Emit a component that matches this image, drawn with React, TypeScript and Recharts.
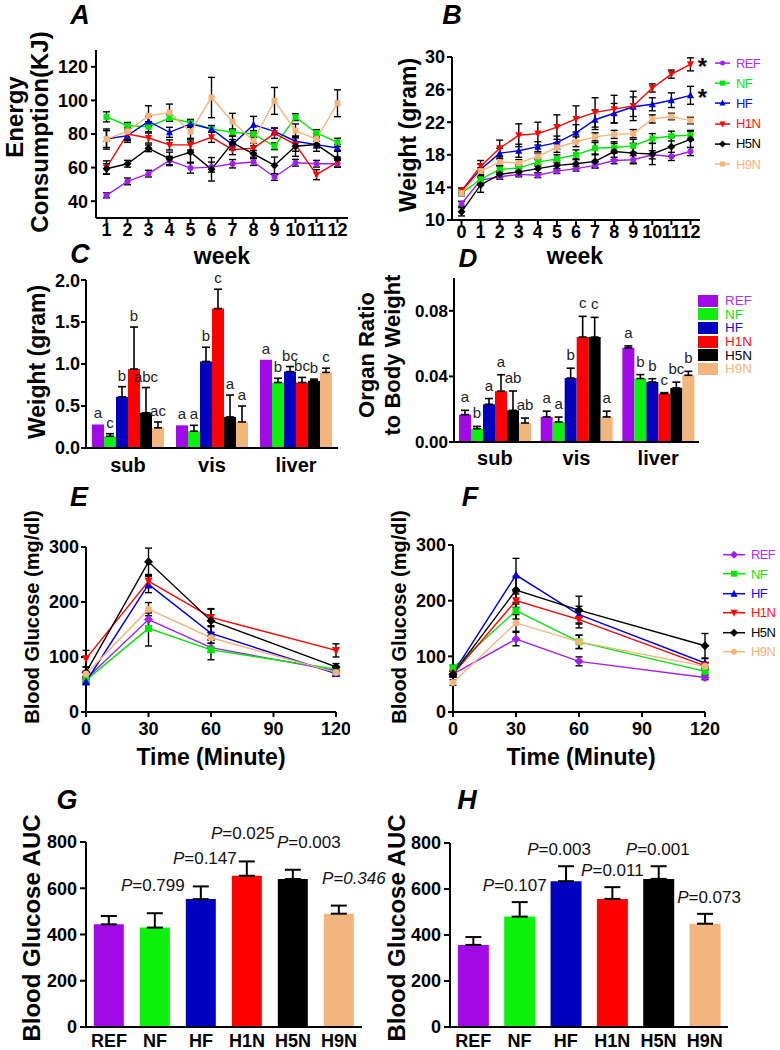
import React from 'react';
import { LineChart, Line, BarChart, Bar, Cell, XAxis, YAxis, ErrorBar, LabelList } from 'recharts';

const FONT = '"Liberation Sans", Arial, Helvetica, sans-serif';

// groups shared by every panel (upper-case keys: "ref" is reserved by React)
const GROUPS = ['REF', 'NF', 'HF', 'H1N', 'H5N', 'H9N'];
const KEYS = GROUPS;

const BAR_COLORS: Record<string, string> = {
  REF: '#a10ae6', NF: '#0cf00c', HF: '#0000c0', H1N: '#ff0000', H5N: '#000000', H9N: '#f2b57e',
};
const LINE_COLORS: Record<string, string> = {
  REF: '#a020f0', NF: '#00e800', HF: '#0000e0', H1N: '#ff0000', H5N: '#000000', H9N: '#f5b47c',
};
const TEXT_COLORS: Record<string, string> = {
  REF: '#b030f0', NF: '#10e010', HF: '#1010e0', H1N: '#ff1010', H5N: '#000000', H9N: '#f5b47c',
};

// A: energy consumption (KJ) by week
const weeksA = [1, 2, 3, 4, 5, 6, 7, 8, 9, 10, 11, 12];
const energyRef = [43.5, 51.8, 56.4, 64.2, 59.7, 60.3, 62.3, 63.3, 54.4, 62.9, 62.3, 62.3];
const energyNf = [90.2, 84.9, 84.3, 89.5, 86.7, 83, 81, 80, 72.7, 90, 80.6, 75];
const energyHf = [77, 79, 87.5, 81, 86, 83, 73.7, 85.5, 81.6, 75.7, 73.7, 71.7];
const energyH1n = [60, 80, 77.6, 73.5, 73.5, 78, 70.7, 71.5, 80.4, 73.7, 55.8, 63.3];
const energyH5n = [59.3, 62.3, 71.5, 65.2, 69.2, 59, 74.7, 68.2, 61.3, 72.7, 73.7, 65.2];
const energyH9n = [77, 81.6, 90.8, 92.8, 81.4, 101.7, 87.3, 76, 99.7, 82, 77, 98.3];
const energyRefErr = [1.5, 2, 2, 2.5, 3, 3, 2.5, 2, 2, 2, 2, 2];
const energyNfErr = [3, 2, 3, 2, 2, 2, 2, 2, 2, 2, 2, 2.5];
const energyHfErr = [6, 4, 3, 3, 2, 2, 3, 5, 2, 3, 2, 2];
const energyH1nErr = [4, 4, 3, 3, 3, 3, 3, 3, 3, 4, 3, 3];
const energyH5nErr = [3, 2, 2, 4, 6, 7, 4, 2, 5, 6, 4, 5];
const energyH9nErr = [5, 5, 6, 5, 4, 12, 5, 3, 8, 4, 3, 8];

// B: body weight (gram) by week
const weeksB = [0, 1, 2, 3, 4, 5, 6, 7, 8, 9, 10, 11, 12];
const weightRef = [12.0, 14.9, 15.3, 15.6, 15.5, 16.0, 16.3, 16.7, 17.3, 17.4, 18.0, 17.8, 18.4];
const weightNf = [13.3, 15.0, 16.2, 16.4, 17.1, 17.5, 18.0, 18.8, 18.9, 19.1, 20.0, 20.3, 20.4];
const weightHf = [13.6, 16.2, 18.2, 18.5, 19.0, 19.5, 20.7, 22.3, 23.1, 23.9, 24.2, 24.7, 25.3];
const weightH1n = [13.6, 16.6, 18.8, 20.4, 20.6, 21.4, 22.4, 23.2, 23.6, 24.0, 26.2, 27.9, 29.1];
const weightH5n = [11.0, 14.3, 15.6, 15.9, 16.3, 16.7, 16.9, 17.2, 18.4, 18.2, 18.1, 19.0, 19.9];
const weightH9n = [13.3, 16.0, 17.1, 17.0, 17.8, 18.9, 19.6, 20.2, 20.5, 20.6, 22.4, 22.7, 22.2];
const weightRefErr = [0.3, 0.4, 0.3, 0.3, 0.3, 0.3, 0.3, 0.3, 0.4, 0.5, 0.5, 0.5, 0.5];
const weightNfErr = [0.3, 0.5, 0.4, 0.4, 0.5, 0.5, 0.6, 0.7, 0.7, 0.8, 0.6, 0.6, 0.6];
const weightHfErr = [0.3, 0.7, 0.6, 0.8, 0.6, 0.8, 1.0, 1.2, 1.2, 1.2, 0.8, 0.9, 1.1];
const weightH1nErr = [0.3, 0.7, 1.0, 1.4, 1.4, 1.5, 1.6, 1.8, 1.7, 1.8, 0.5, 0.5, 0.8];
const weightH5nErr = [0.5, 0.9, 0.4, 0.4, 0.5, 0.6, 0.6, 0.8, 1.0, 1.2, 1.3, 1.2, 1.0];
const weightH9nErr = [0.3, 0.4, 0.4, 0.4, 0.4, 0.6, 0.6, 0.5, 0.5, 0.5, 0.5, 0.4, 0.4];
const weightStars = ['', '', '', '', '', '', '', '', '', '', '', '', '*'];

// C: tissue weight (gram)
const organs = ['sub', 'vis', 'liver'];
const fatRef = [0.28, 0.27, 1.05];
const fatNf = [0.14, 0.20, 0.78];
const fatHf = [0.61, 1.03, 0.91];
const fatH1n = [0.94, 1.66, 0.78];
const fatH5n = [0.42, 0.37, 0.80];
const fatH9n = [0.24, 0.31, 0.90];
const fatRefErr = [0.0, 0.0, 0.0];
const fatNfErr = [0.03, 0.07, 0.05];
const fatHfErr = [0.12, 0.17, 0.06];
const fatH1nErr = [0.5, 0.23, 0.06];
const fatH5nErr = [0.30, 0.26, 0.02];
const fatH9nErr = [0.07, 0.19, 0.05];
const fatRefSig = ['a', 'a', 'a'];
const fatNfSig = ['c', 'a', 'b'];
const fatHfSig = ['b', 'b', 'bc'];
const fatH1nSig = ['b', 'c', 'bc'];
const fatH5nSig = ['abc', 'a', 'b'];
const fatH9nSig = ['ac', 'a', 'c'];

// D: organ ratio to body weight
const ratioRef = [0.0167, 0.0153, 0.0574];
const ratioNf = [0.0081, 0.0122, 0.0387];
const ratioHf = [0.023, 0.039, 0.0366];
const ratioH1n = [0.031, 0.064, 0.0295];
const ratioH5n = [0.0193, 0.064, 0.033];
const ratioH9n = [0.0116, 0.0153, 0.0407];
const ratioRefErr = [0.0026, 0.0035, 0.0012];
const ratioNfErr = [0.0014, 0.003, 0.0024];
const ratioHfErr = [0.0035, 0.006, 0.002];
const ratioH1nErr = [0.010, 0.0126, 0.0006];
const ratioH5nErr = [0.0118, 0.012, 0.0035];
const ratioH9nErr = [0.003, 0.0035, 0.0024];
const ratioRefSig = ['a', 'a', 'a'];
const ratioNfSig = ['b', 'a', 'b'];
const ratioHfSig = ['a', 'b', 'b'];
const ratioH1nSig = ['a', 'c', 'c'];
const ratioH5nSig = ['ab', 'c', 'bc'];
const ratioH9nSig = ['ab', 'a', 'b'];

// E / F: blood glucose (mg/dl) over time
const minutes = [0, 30, 60, 120];
const gttERef = [60, 168, 117, 75];
const gttENf = [58, 152, 113, 78];
const gttEHf = [55, 232, 143, 70];
const gttEH1n = [97, 238, 172, 112];
const gttEH5n = [72, 273, 166, 82];
const gttEH9n = [69, 187, 135, 72];
const gttERefErr = [5, 12, 8, 5];
const gttENfErr = [5, 32, 18, 5];
const gttEHfErr = [5, 15, 12, 5];
const gttEH1nErr = [15, 12, 15, 12];
const gttEH5nErr = [10, 25, 22, 6];
const gttEH9nErr = [5, 12, 10, 5];

const gttFRef = [68, 131, 91, 62];
const gttFNf = [79, 182, 126, 73];
const gttFHf = [70, 246, 175, 88];
const gttFH1n = [68, 200, 166, 83];
const gttFH5n = [68, 219, 183, 119];
const gttFH9n = [53, 160, 126, 82];
const gttFRefErr = [5, 12, 8, 4];
const gttFNfErr = [5, 15, 12, 5];
const gttFHfErr = [5, 30, 15, 8];
const gttFH1nErr = [5, 12, 15, 6];
const gttFH5nErr = [5, 25, 25, 22];
const gttFH9nErr = [5, 15, 12, 6];

// G / H: glucose AUC
const aucG = [444, 430, 553, 654, 640, 490];
const aucGErr = [36, 62, 55, 62, 40, 35];
const aucGP = ['', '0.799', '0.147', '0.025', '0.003', '0.346'];
const aucH = [357, 480, 634, 557, 644, 449];
const aucHErr = [34, 63, 65, 51, 55, 43];
const aucHP = ['', '0.107', '0.003', '0.011', '0.001', '0.073'];

// label layout tweaks (not data)
const pDxG = [0, -2, 4, -4, 16, 15];
const pDxH = [0, -5, -7, 0, -1, 4];
const pItalicG = [false, false, false, false, false, true];
const pItalicH = [false, false, false, false, false, false];

const AXIS = { stroke: '#000', strokeWidth: 2 };
const tick = (size: number) => ({ fill: '#000', fontSize: size, fontWeight: 700, fontFamily: FONT });

const buildRows = (xKey: string, xs: any[], cols: Record<string, any[]>) =>
  xs.map((x, i) => {
    const r: any = { [xKey]: x };
    Object.keys(cols).forEach((k) => { r[k] = cols[k][i]; });
    return r;
  });

// GraphPad-style bars show only the upper half of the error bar
const upOnly = (errs: number[]) => errs.map((e) => (e > 0 ? [0, e] : null));

const lineCols = (vals: number[][], errs: number[][]) => {
  const cols: Record<string, any[]> = {};
  KEYS.forEach((k, i) => {
    cols[k] = vals[i];
    cols[k + 'Err'] = errs[i];
  });
  return cols;
};

const rowsA = buildRows('week', weeksA, lineCols(
  [energyRef, energyNf, energyHf, energyH1n, energyH5n, energyH9n],
  [energyRefErr, energyNfErr, energyHfErr, energyH1nErr, energyH5nErr, energyH9nErr],
));
const rowsB = buildRows('week', weeksB, {
  ...lineCols(
    [weightRef, weightNf, weightHf, weightH1n, weightH5n, weightH9n],
    [weightRefErr, weightNfErr, weightHfErr, weightH1nErr, weightH5nErr, weightH9nErr],
  ),
  star: weightStars,
});
const rowsE = buildRows('min', minutes, lineCols(
  [gttERef, gttENf, gttEHf, gttEH1n, gttEH5n, gttEH9n],
  [gttERefErr, gttENfErr, gttEHfErr, gttEH1nErr, gttEH5nErr, gttEH9nErr],
));
const rowsF = buildRows('min', minutes, lineCols(
  [gttFRef, gttFNf, gttFHf, gttFH1n, gttFH5n, gttFH9n],
  [gttFRefErr, gttFNfErr, gttFHfErr, gttFH1nErr, gttFH5nErr, gttFH9nErr],
));

const fatVals = [fatRef, fatNf, fatHf, fatH1n, fatH5n, fatH9n];
const fatErrs = [fatRefErr, fatNfErr, fatHfErr, fatH1nErr, fatH5nErr, fatH9nErr];
const fatSigs = [fatRefSig, fatNfSig, fatHfSig, fatH1nSig, fatH5nSig, fatH9nSig];
const ratioVals = [ratioRef, ratioNf, ratioHf, ratioH1n, ratioH5n, ratioH9n];
const ratioErrs = [ratioRefErr, ratioNfErr, ratioHfErr, ratioH1nErr, ratioH5nErr, ratioH9nErr];
const ratioSigs = [ratioRefSig, ratioNfSig, ratioHfSig, ratioH1nSig, ratioH5nSig, ratioH9nSig];

const barRows = (vals: number[][], errs: number[][], sigs: string[][]) => {
  const cols: Record<string, any[]> = {};
  KEYS.forEach((k, i) => {
    cols[k] = vals[i];
    cols[k + 'Err'] = upOnly(errs[i]);
    cols[k + 'Sig'] = sigs[i];
  });
  return buildRows('organ', organs, cols);
};
const rowsC = barRows(fatVals, fatErrs, fatSigs);
const rowsD = barRows(ratioVals, ratioErrs, ratioSigs);

const rowsG = buildRows('group', GROUPS, { auc: aucG, err: upOnly(aucGErr), pv: aucGP });
const rowsH = buildRows('group', GROUPS, { auc: aucH, err: upOnly(aucHErr), pv: aucHP });

// marker shapes
const SHAPES_AB = ['circle', 'square', 'tri', 'triDown', 'diamond', 'square'];
const SHAPES_EF = ['diamond', 'square', 'tri', 'triDown', 'diamond', 'circle'];

const markerPath = (shape: string, cx: number, cy: number, s: number) => {
  const h = s / 2;
  switch (shape) {
    case 'square':
      return `M${cx - h},${cy - h}h${s}v${s}h${-s}Z`;
    case 'tri':
      return `M${cx},${cy - h - 1}L${cx + h + 0.5},${cy + h}L${cx - h - 0.5},${cy + h}Z`;
    case 'triDown':
      return `M${cx},${cy + h + 1}L${cx + h + 0.5},${cy - h}L${cx - h - 0.5},${cy - h}Z`;
    case 'diamond':
      return `M${cx},${cy - h - 1}L${cx + h + 1},${cy}L${cx},${cy + h + 1}L${cx - h - 1},${cy}Z`;
    default:
      return `M${cx - h},${cy}a${h},${h} 0 1,0 ${s},0a${h},${h} 0 1,0 ${-s},0`;
  }
};

const makeDot = (shape: string, color: string, s: number) => (p: any) => {
  if (p.cx == null || p.cy == null) return <g key={`e${p.index}`} />;
  return <path key={`d${p.index}`} d={markerPath(shape, p.cx, p.cy, s)} fill={color} stroke="none" />;
};

// letters above bars (a, b, c ...), placed over the error bar cap
const sigLabel = (vals: number[], errs: number[], lift: number, size: number) => (p: any) => {
  const { x, y, width, height, index, value } = p;
  if (!value) return null;
  const capY = y - errs[index] * (height / vals[index]);
  return (
    <text x={x + width / 2} y={capY - lift} textAnchor="middle" fontSize={size} fill="#222" fontFamily={FONT}>
      {value}
    </text>
  );
};

const pLabel = (vals: number[], errs: number[], dx: number[], italic: boolean[], lift: number) => (p: any) => {
  const { x, y, width, height, index, value } = p;
  if (!value) return null;
  const capY = y - errs[index] * (height / vals[index]);
  return (
    <text x={x + width / 2 + dx[index]} y={capY - lift} textAnchor="middle" fontSize={17} fill="#111"
      fontFamily={FONT} fontStyle={italic[index] ? 'italic' : 'normal'}>
      <tspan fontStyle="italic">P</tspan>={value}
    </text>
  );
};

const starLabel = (p: any) => {
  const { x, y, value } = p;
  if (!value) return null;
  return (
    <text x={x + 12} y={y + 11} textAnchor="middle" fontSize={24} fontWeight={700} fill="#000" fontFamily={FONT}>
      {value}
    </text>
  );
};

const Txt = ({ x, y, size, children, bold = true, italic = false, rotate = false, color = '#000' }: any) => (
  <div
    style={{
      position: 'absolute', left: x, top: y,
      transform: `translate(-50%, -50%)${rotate ? ' rotate(-90deg)' : ''}`,
      fontSize: size, fontWeight: bold ? 700 : 400, fontStyle: italic ? 'italic' : 'normal',
      whiteSpace: 'nowrap', lineHeight: 1, color, fontFamily: FONT,
    }}
  >
    {children}
  </div>
);

const LineLegend = ({ left, top, step, lineW, fontSize, shapes, marker }: any) => (
  <div style={{ position: 'absolute', left, top, fontFamily: FONT }}>
    {KEYS.map((k, i) => (
      <div key={k} style={{ display: 'flex', alignItems: 'center', height: step }}>
        <svg width={lineW} height={step} style={{ display: 'block' }}>
          <line x1={0} x2={lineW} y1={step / 2} y2={step / 2} stroke={LINE_COLORS[k]} strokeWidth={1.5} />
          <path d={markerPath(shapes[i], lineW / 2, step / 2, marker)} fill={LINE_COLORS[k]} />
        </svg>
        <span style={{ color: TEXT_COLORS[k], fontSize, marginLeft: 6, letterSpacing: -0.6 }}>{GROUPS[i]}</span>
      </div>
    ))}
  </div>
);

const BoxLegend = ({ left, top }: any) => (
  <div style={{ position: 'absolute', left, top, fontFamily: FONT }}>
    {KEYS.map((k, i) => (
      <div key={k} style={{ display: 'flex', alignItems: 'center', height: 13.6 }}>
        <div style={{ width: 20, height: 12, background: BAR_COLORS[k] }} />
        <span style={{ color: TEXT_COLORS[k], fontSize: 13.5, marginLeft: 7, lineHeight: '13px' }}>{GROUPS[i]}</span>
      </div>
    ))}
  </div>
);

const seriesLines = (shapes: string[], size: number, starKeys: string[] = []) =>
  KEYS.map((k, i) => (
    <Line key={k} type="linear" dataKey={k} stroke={LINE_COLORS[k]} strokeWidth={1.4}
      dot={makeDot(shapes[i], LINE_COLORS[k], size)} activeDot={false} isAnimationActive={false}>
      <ErrorBar dataKey={`${k}Err`} direction="y" width={3.5} stroke="#000" strokeWidth={1.4} isAnimationActive={false} />
      {starKeys.includes(k) ? <LabelList dataKey="star" content={starLabel} /> : null}
    </Line>
  ));

const seriesBars = (vals: number[][], errs: number[][], lift: number, size: number) =>
  KEYS.map((k, i) => (
    <Bar key={k} dataKey={k} fill={BAR_COLORS[k]} isAnimationActive={false}>
      <ErrorBar dataKey={`${k}Err`} direction="y" width={4} stroke="#000" strokeWidth={1.6} isAnimationActive={false} />
      <LabelList dataKey={`${k}Sig`} content={sigLabel(vals[i], errs[i], lift, size)} />
    </Bar>
  ));

const abs = (left: number, top: number): React.CSSProperties => ({ position: 'absolute', left, top });

export default function App() {
  return (
    <div style={{ position: 'absolute', left: 0, top: 0, width: 780, height: 1050, background: '#fff', fontFamily: FONT, overflow: 'hidden' }}>
      {/* A */}
      <div style={abs(0, 0)}>
        <LineChart width={360} height={248} data={rowsA} margin={{ top: 50, right: 12, bottom: 0, left: 0 }}>
          <XAxis type="number" dataKey="week" domain={[0.5, 12.5]} ticks={weeksA} interval={0} axisLine={AXIS} tickLine={AXIS}
            tickSize={5} tickMargin={0} height={30} tick={tick(18)} />
          <YAxis type="number" domain={[30, 130]} ticks={[40, 60, 80, 100, 120]} width={96} axisLine={AXIS} tickLine={AXIS}
            tickSize={5} tickMargin={3} tick={tick(18)} />
          {seriesLines(SHAPES_AB, 6)}
        </LineChart>
      </div>
      <Txt x={80} y={15} size={27} italic>A</Txt>
      <Txt x={15} y={117} size={24} rotate>Energy</Txt>
      <Txt x={40} y={132} size={24} rotate>Consumption(KJ)</Txt>
      <Txt x={222} y={256} size={23}>week</Txt>

      {/* B */}
      <div style={abs(390, 0)}>
        <LineChart width={330} height={250} data={rowsB} margin={{ top: 57, right: 20, bottom: 0, left: 0 }}>
          <XAxis type="number" dataKey="week" domain={[-0.5, 12.5]} ticks={weeksB} interval={0} axisLine={AXIS} tickLine={AXIS}
            tickSize={5} tickMargin={0} height={30} tick={tick(18)} />
          <YAxis type="number" domain={[10, 30]} ticks={[10, 14, 18, 22, 26, 30]} width={62} axisLine={AXIS} tickLine={AXIS}
            tickSize={5} tickMargin={2} tick={tick(18)} />
          {seriesLines(SHAPES_AB, 6, ['HF', 'H1N'])}
        </LineChart>
      </div>
      <Txt x={452} y={15} size={27} italic>B</Txt>
      <Txt x={408} y={135} size={23} rotate>Weight (gram)</Txt>
      <Txt x={575} y={256} size={23}>week</Txt>
      <LineLegend left={715} top={53} step={20.2} lineW={15} fontSize={13} shapes={SHAPES_AB} marker={5} />

      {/* C */}
      <div style={abs(0, 270)}>
        <BarChart width={350} height={213} data={rowsC} margin={{ top: 10, right: 12, bottom: 0, left: 0 }} barGap={0} barCategoryGap={6}>
          <XAxis dataKey="organ" axisLine={AXIS} tickLine={false} tickSize={6} tickMargin={4} height={35} tick={tick(20)} />
          <YAxis type="number" domain={[0, 2]} ticks={[0, 0.5, 1, 1.5, 2]} tickFormatter={(v: number) => v.toFixed(1)} width={86}
            axisLine={AXIS} tickLine={AXIS} tickSize={5} tickMargin={1} tick={tick(18)} />
          {seriesBars(fatVals, fatErrs, 6, 15)}
        </BarChart>
      </div>
      <Txt x={80} y={254} size={27} italic>C</Txt>
      <Txt x={37} y={362} size={23} rotate>Weight (gram)</Txt>

      {/* D */}
      <div style={abs(390, 270)}>
        <BarChart width={314} height={207} data={rowsD} margin={{ top: 8, right: 5, bottom: 0, left: 0 }} barGap={0} barCategoryGap={5}>
          <XAxis dataKey="organ" axisLine={AXIS} tickLine={false} tickSize={6} tickMargin={3} height={35} tick={tick(20)} />
          <YAxis type="number" domain={[0, 0.1]} ticks={[0, 0.04, 0.08]} tickFormatter={(v: number) => v.toFixed(2)} width={64}
            axisLine={AXIS} tickLine={AXIS} tickSize={5} tickMargin={1} tick={tick(17)} />
          {seriesBars(ratioVals, ratioErrs, 8, 15)}
        </BarChart>
      </div>
      <Txt x={468} y={258} size={26} italic>D</Txt>
      <Txt x={367} y={355} size={22} rotate>Organ Ratio</Txt>
      <Txt x={393} y={355} size={22} rotate>to Body Weight</Txt>
      <BoxLegend left={698} top={294} />

      {/* E */}
      <div style={abs(0, 530)}>
        <LineChart width={350} height={212} data={rowsE} margin={{ top: 17, right: 14, bottom: 0, left: 0 }}>
          <XAxis type="number" dataKey="min" domain={[0, 120]} ticks={[0, 30, 60, 90, 120]} interval={0} axisLine={AXIS} tickLine={AXIS}
            tickSize={5} tickMargin={5} height={30} tick={tick(18)} />
          <YAxis type="number" domain={[0, 300]} ticks={[0, 100, 200, 300]} width={86} axisLine={AXIS} tickLine={AXIS}
            tickSize={5} tickMargin={2} tick={tick(18)} />
          {seriesLines(SHAPES_EF, 7)}
        </LineChart>
      </div>
      <Txt x={79} y={497} size={27} italic>E</Txt>
      <Txt x={32} y={617} size={20} rotate>Blood Glucose (mg/dl)</Txt>
      <Txt x={211} y={757} size={23}>Time (Minute)</Txt>

      {/* F */}
      <div style={abs(390, 530)}>
        <LineChart width={335} height={212} data={rowsF} margin={{ top: 15, right: 20, bottom: 0, left: 0 }}>
          <XAxis type="number" dataKey="min" domain={[0, 120]} ticks={[0, 30, 60, 90, 120]} interval={0} axisLine={AXIS} tickLine={AXIS}
            tickSize={5} tickMargin={5} height={30} tick={tick(18)} />
          <YAxis type="number" domain={[0, 300]} ticks={[0, 100, 200, 300]} width={63} axisLine={AXIS} tickLine={AXIS}
            tickSize={5} tickMargin={2} tick={tick(18)} />
          {seriesLines(SHAPES_EF, 7)}
        </LineChart>
      </div>
      <Txt x={470} y={497} size={27} italic>F</Txt>
      <Txt x={399} y={617} size={20} rotate>Blood Glucose (mg/dl)</Txt>
      <Txt x={581} y={757} size={23}>Time (Minute)</Txt>
      <LineLegend left={723} top={545} step={19.4} lineW={22} fontSize={13} shapes={SHAPES_EF} marker={6} />

      {/* G */}
      <div style={abs(0, 810)}>
        <BarChart width={388} height={240} data={rowsG} margin={{ top: 32, right: 26, bottom: 0, left: 0 }} barCategoryGap="17%">
          <XAxis dataKey="group" axisLine={AXIS} tickLine={false} tickSize={6} tickMargin={1} height={23} tick={tick(18)} interval={0} />
          <YAxis type="number" domain={[0, 800]} ticks={[0, 200, 400, 600, 800]} width={86} axisLine={AXIS} tickLine={AXIS}
            tickSize={6} tickMargin={3} tick={tick(18)} />
          <Bar dataKey="auc" isAnimationActive={false}>
            {GROUPS.map((g) => <Cell key={g} fill={BAR_COLORS[g]} />)}
            <ErrorBar dataKey="err" direction="y" width={8} stroke="#000" strokeWidth={2} isAnimationActive={false} />
            <LabelList dataKey="pv" content={pLabel(aucG, aucGErr, pDxG, pItalicG, 22)} />
          </Bar>
        </BarChart>
      </div>
      <Txt x={67} y={800} size={27} italic>G</Txt>
      <Txt x={32} y={928} size={24} rotate>Blood Glucose AUC</Txt>

      {/* H */}
      <div style={abs(390, 810)}>
        <BarChart width={365} height={240} data={rowsH} margin={{ top: 33, right: 27, bottom: 0, left: 0 }} barCategoryGap="17%">
          <XAxis dataKey="group" axisLine={AXIS} tickLine={false} tickSize={6} tickMargin={1} height={23} tick={tick(18)} interval={0} />
          <YAxis type="number" domain={[0, 800]} ticks={[0, 200, 400, 600, 800]} width={60} axisLine={AXIS} tickLine={AXIS}
            tickSize={6} tickMargin={3} tick={tick(18)} />
          <Bar dataKey="auc" isAnimationActive={false}>
            {GROUPS.map((g) => <Cell key={g} fill={BAR_COLORS[g]} />)}
            <ErrorBar dataKey="err" direction="y" width={8} stroke="#000" strokeWidth={2} isAnimationActive={false} />
            <LabelList dataKey="pv" content={pLabel(aucH, aucHErr, pDxH, pItalicH, 11)} />
          </Bar>
        </BarChart>
      </div>
      <Txt x={467} y={800} size={27} italic>H</Txt>
      <Txt x={397} y={928} size={24} rotate>Blood Glucose AUC</Txt>
    </div>
  );
}
